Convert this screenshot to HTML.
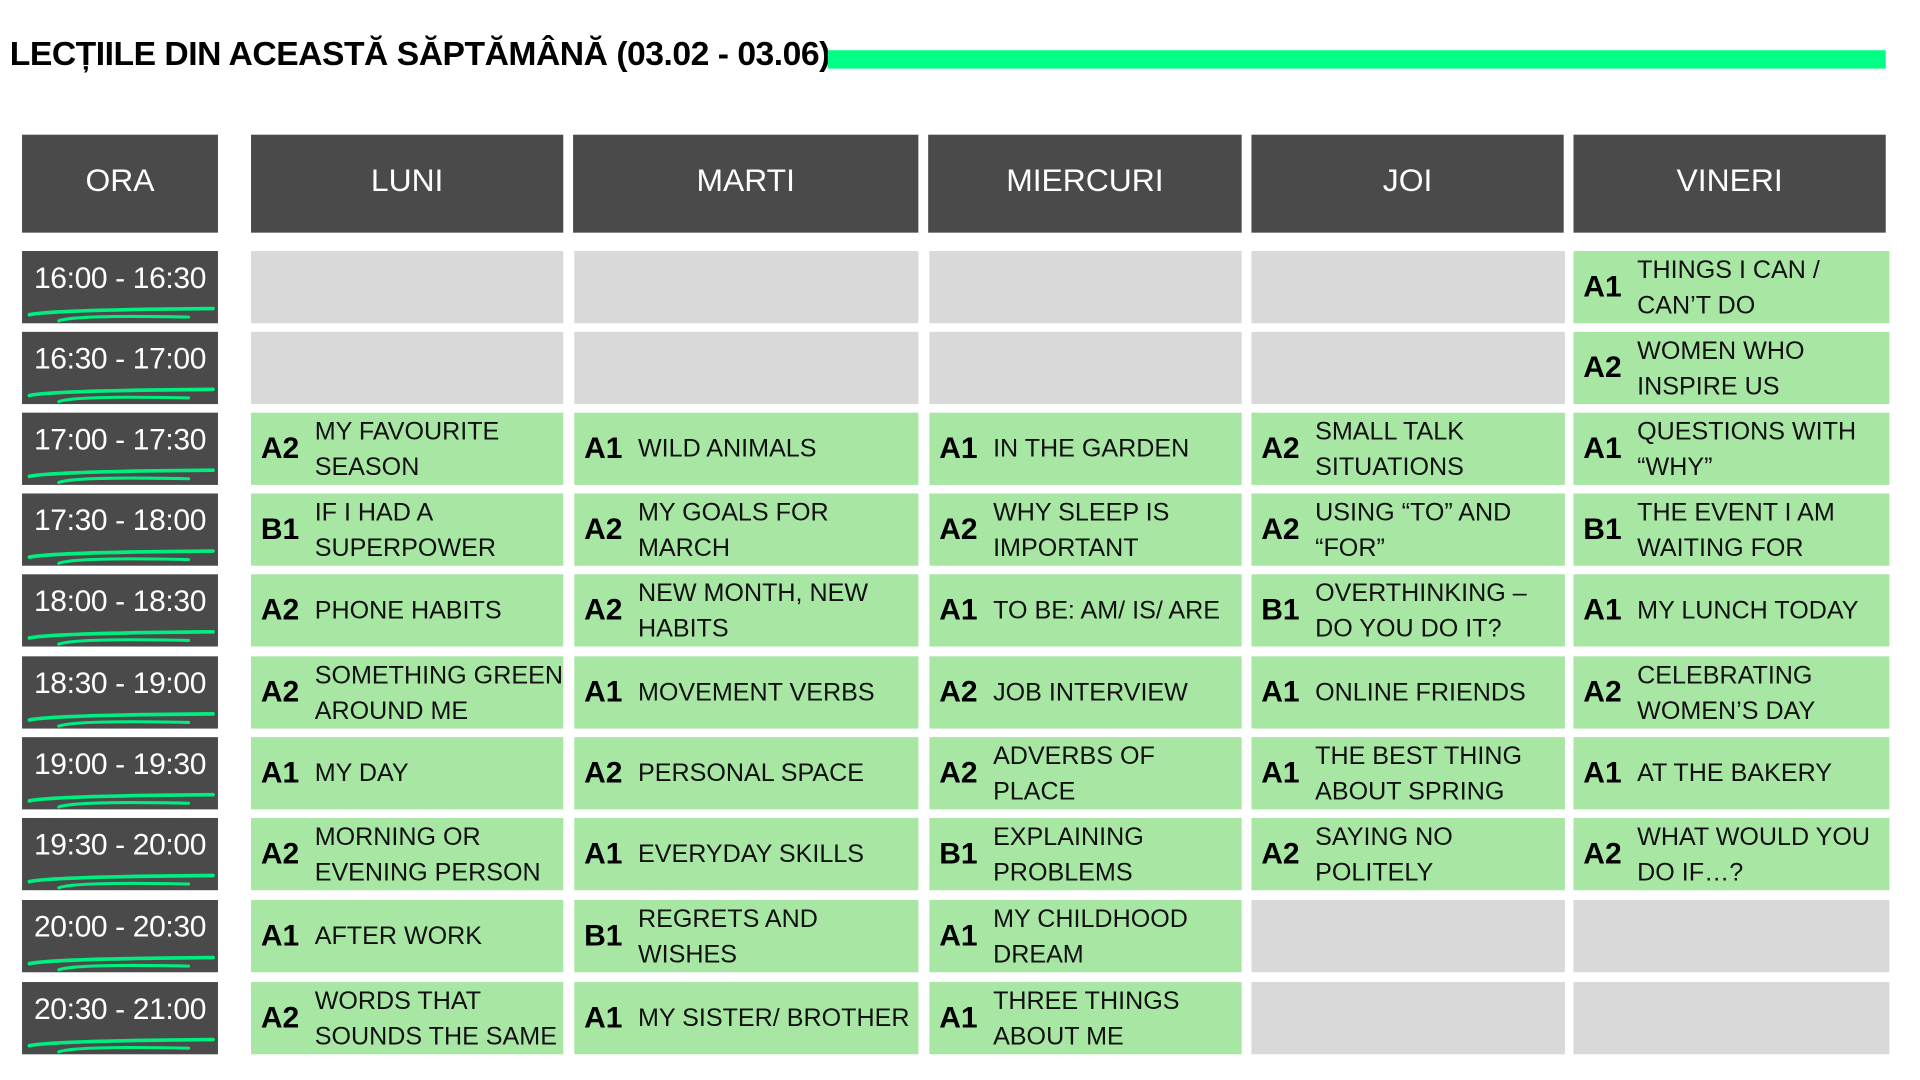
<!DOCTYPE html>
<html><head><meta charset="utf-8"><style>
html,body{margin:0;padding:0;background:#fff;width:1920px;height:1080px;overflow:hidden}
#w{position:absolute;left:0;top:0;width:1568px;height:882px;transform:scale(1.2245);transform-origin:0 0;font-family:"Liberation Sans",sans-serif}
.a{position:absolute}
.h{background:#4a4a4a;color:#fff;font-size:26px;display:flex;align-items:center;justify-content:center;top:110px;height:80px;padding-bottom:6px;box-sizing:border-box}
.t{background:#4a4a4a;color:#fff;font-size:24.5px;left:18px;width:160px;height:59px}
.t span{position:absolute;left:2px;top:9px;width:156px;text-align:center;letter-spacing:-0.3px}
.t svg{position:absolute;left:4px;top:44px}
.c{height:59px;display:flex;align-items:center;box-sizing:border-box;padding-left:8px}
.g{background:#a8e6a4}.e{background:#d9d9d9}
.l{font-weight:bold;font-size:24.5px;width:44px;flex:none}
.x{font-size:20.5px;line-height:29px;color:#111}
</style></head><body><div id="w">
<div class="a" style="left:8px;top:28px;font-size:27.5px;font-weight:bold;letter-spacing:-0.4px">LECȚIILE DIN ACEASTĂ SĂPTĂMÂNĂ (03.02 - 03.06)</div>
<div class="a" style="left:676px;top:41px;width:864px;height:15px;background:#00ff85"></div>
<div class="a h" style="left:18px;width:160px">ORA</div>
<div class="a h" style="left:205px;width:255px">LUNI</div>
<div class="a h" style="left:468px;width:282px">MARTI</div>
<div class="a h" style="left:758px;width:256px">MIERCURI</div>
<div class="a h" style="left:1022px;width:255px">JOI</div>
<div class="a h" style="left:1285px;width:255px">VINERI</div>
<div id="rows"></div>
</div>
<script>
var tops=[205,271,337,403,469,536,602,668,735,802];
var times=["16:00 - 16:30","16:30 - 17:00","17:00 - 17:30","17:30 - 18:00","18:00 - 18:30","18:30 - 19:00","19:00 - 19:30","19:30 - 20:00","20:00 - 20:30","20:30 - 21:00"];
var cols=[[205,255],[469,281],[759,255],[1022,256],[1285,258]];
var d=[
[null,null,null,null,["A1","THINGS I CAN /<br>CAN’T DO"]],
[null,null,null,null,["A2","WOMEN WHO<br>INSPIRE US"]],
[["A2","MY FAVOURITE<br>SEASON"],["A1","WILD ANIMALS"],["A1","IN THE GARDEN"],["A2","SMALL TALK<br>SITUATIONS"],["A1","QUESTIONS WITH<br>“WHY”"]],
[["B1","IF I HAD A<br>SUPERPOWER"],["A2","MY GOALS FOR<br>MARCH"],["A2","WHY SLEEP IS<br>IMPORTANT"],["A2","USING “TO” AND<br>“FOR”"],["B1","THE EVENT I AM<br>WAITING FOR"]],
[["A2","PHONE HABITS"],["A2","NEW MONTH, NEW<br>HABITS"],["A1","TO BE: AM/ IS/ ARE"],["B1","OVERTHINKING –<br>DO YOU DO IT?"],["A1","MY LUNCH TODAY"]],
[["A2","SOMETHING GREEN<br>AROUND ME"],["A1","MOVEMENT VERBS"],["A2","JOB INTERVIEW"],["A1","ONLINE FRIENDS"],["A2","CELEBRATING<br>WOMEN’S DAY"]],
[["A1","MY DAY"],["A2","PERSONAL SPACE"],["A2","ADVERBS OF<br>PLACE"],["A1","THE BEST THING<br>ABOUT SPRING"],["A1","AT THE BAKERY"]],
[["A2","MORNING OR<br>EVENING PERSON"],["A1","EVERYDAY SKILLS"],["B1","EXPLAINING<br>PROBLEMS"],["A2","SAYING NO<br>POLITELY"],["A2","WHAT WOULD YOU<br>DO IF…?"]],
[["A1","AFTER WORK"],["B1","REGRETS AND<br>WISHES"],["A1","MY CHILDHOOD<br>DREAM"],null,null],
[["A2","WORDS THAT<br>SOUNDS THE SAME"],["A1","MY SISTER/ BROTHER"],["A1","THREE THINGS<br>ABOUT ME"],null,null]
];
var sq='<svg width="156" height="16" viewBox="0 0 156 16"><path d="M2 8 Q20 4 152 3" stroke="#00ee80" stroke-width="3" fill="none" stroke-linecap="round"/><path d="M26 13 Q40 8 132 10" stroke="#00ee80" stroke-width="2.5" fill="none" stroke-linecap="round"/></svg>';
var h="";
for(var r=0;r<10;r++){
 h+='<div class="a t" style="top:'+tops[r]+'px"><span>'+times[r]+'</span>'+sq+'</div>';
 for(var c=0;c<5;c++){
  var it=d[r][c],cl=cols[c];
  var st='left:'+cl[0]+'px;width:'+cl[1]+'px;top:'+tops[r]+'px';
  if(it) h+='<div class="a c g" style="'+st+'"><div class="l">'+it[0]+'</div><div class="x">'+it[1]+'</div></div>';
  else h+='<div class="a c e" style="'+st+'"></div>';
 }
}
document.getElementById("rows").innerHTML=h;
</script>
</body></html>
